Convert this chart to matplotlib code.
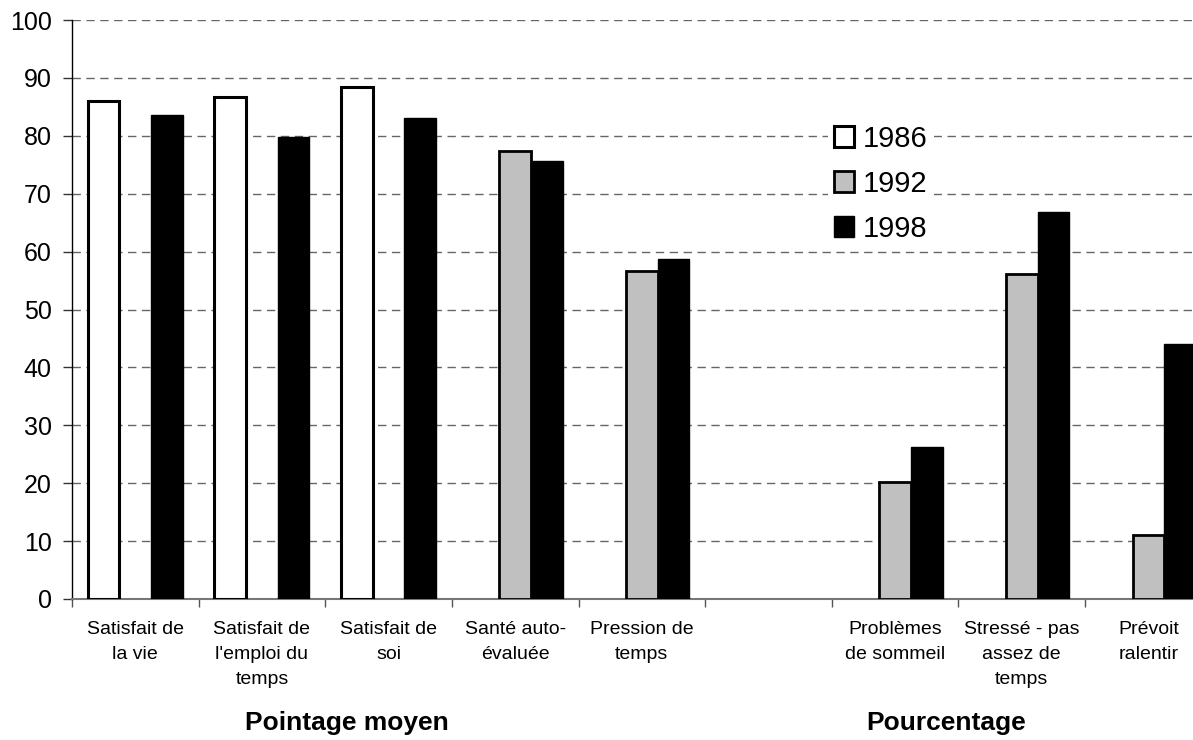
import numpy as np
import matplotlib
matplotlib.use("Agg")
from matplotlib import pyplot as plt

plt.rcParams['font.family'] = ['Liberation Sans', 'DejaVu Sans']

# categories (one empty slot between the two groups)
categories = ['Satisfait de\nla vie', "Satisfait de\nl'emploi du\ntemps", 'Satisfait de\nsoi',
              'Santé auto-\névaluée', 'Pression de\ntemps', '',
              'Problèmes\nde sommeil', 'Stressé - pas\nassez de\ntemps', 'Prévoit\nralentir']
years = ['1986', '1992', '1998']
v1986 = [86.0, 86.7, 88.4, np.nan, np.nan, np.nan, np.nan, np.nan, np.nan]
v1992 = [np.nan, np.nan, np.nan, 77.3, 56.6, np.nan, 20.2, 56.2, 11.1]
v1998 = [83.6, 79.8, 83.0, 75.6, 58.7, np.nan, 26.2, 66.8, 44.1]
group_labels = ['Pointage moyen', 'Pourcentage']

fig = plt.figure(figsize=(11.93, 7.40), dpi=100)
ax = fig.add_axes([72/1193, 141/740, 1139.7/1193, 579/740])

x = np.arange(len(categories))
w = 0.25
ax.bar(x - w, v1986, w, color='white', edgecolor='black', linewidth=2.2, label=years[0], zorder=3)
ax.bar(x, v1992, w, color='#c0c0c0', edgecolor='black', linewidth=2, label=years[1], zorder=3)
ax.bar(x + w, v1998, w, color='black', edgecolor='black', linewidth=1, label=years[2], zorder=4)

ax.set_xlim(-0.5, len(categories) - 0.5)
ax.set_ylim(0, 100)
ax.set_yticks(np.arange(0, 101, 10))
ax.tick_params(axis='y', labelsize=18, length=6.5, width=1, pad=8, color='#333333')
ax.yaxis.grid(True, linestyle=(0, (6, 4)), color='#666666', linewidth=1)
ax.set_axisbelow(True)

ax.set_xticks(x)
ax.set_xticklabels(categories, fontsize=14, linespacing=1.6, va='top')
ax.tick_params(axis='x', which='major', length=0, pad=16)
ax.set_xticks(np.arange(len(categories)) - 0.5, minor=True)
ax.tick_params(axis='x', which='minor', length=6, width=1, color='#555555')

for s in ['top', 'right']:
    ax.spines[s].set_visible(False)
ax.spines['left'].set_color('black')
ax.spines['left'].set_linewidth(1)
ax.spines['bottom'].set_color('#777777')
ax.spines['bottom'].set_linewidth(1.5)

fig.text(347/1193, 1 - 723/740, group_labels[0], fontsize=19, fontweight='bold', ha='center', va='center')
fig.text(946/1193, 1 - 723/740, group_labels[1], fontsize=19, fontweight='bold', ha='center', va='center')

leg = ax.legend(loc='upper left', bbox_to_anchor=(828/1193, 1 - 119/740), bbox_transform=fig.transFigure,
                fontsize=21, frameon=True, handlelength=0.7, handleheight=0.7, handletextpad=0.3,
                labelspacing=0.58, borderpad=0.2, borderaxespad=0)
leg.get_frame().set_edgecolor('none')
leg.get_frame().set_facecolor('white')
leg.get_frame().set_alpha(1)

fig.savefig('out.png', dpi=100)
